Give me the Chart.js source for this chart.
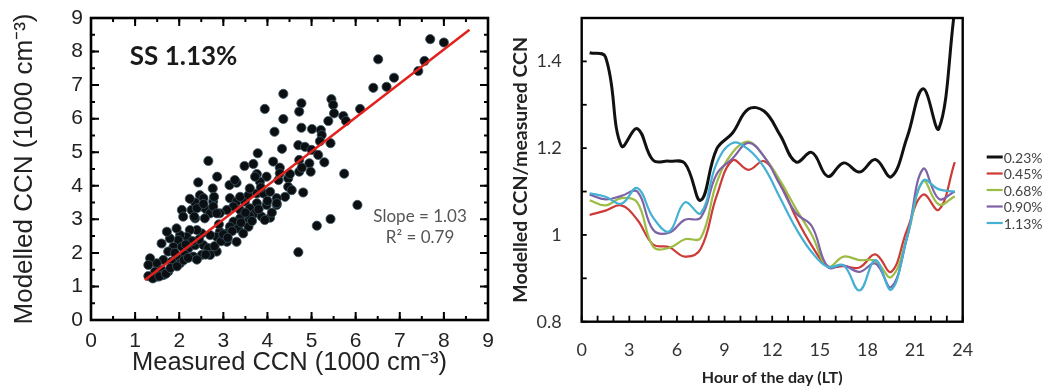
<!DOCTYPE html>
<html>
<head>
<meta charset="utf-8">
<script src="https://cdn.jsdelivr.net/npm/chart.js@4.4.0/dist/chart.umd.min.js"></script>
<style>
  html, body { margin: 0; padding: 0; background: #fff; }
  #wrap { position: relative; width: 1042px; height: 389px; overflow: hidden; }
  #scatterBox { position: absolute; left: 0; top: 0; width: 500px; height: 389px; }
  #diurnalBox { position: absolute; left: 500px; top: 0; width: 542px; height: 389px; }
</style>
</head>
<body>
<div id="wrap">
  <div id="scatterBox"><canvas id="scatterChart"></canvas></div>
  <div id="diurnalBox"><canvas id="diurnalChart"></canvas></div>
</div>
<script>
// ---- left panel: modelled vs measured CCN at SS 1.13% (1000 cm-3) ----
const measuredCCN = [
  7.69, 8.00, 6.51, 7.56, 7.42, 6.87, 6.40, 6.70, 6.10, 4.36, 5.45, 5.49, 4.77, 4.72, 5.51, 5.72,
  4.36, 5.38, 5.78, 4.16, 4.77, 5.01, 5.21, 5.23, 5.19, 5.43, 4.70, 4.85, 5.00, 4.33, 5.15, 4.95,
  5.29, 4.72, 4.13, 4.72, 4.98, 4.78, 4.28, 5.74, 4.47, 4.25, 4.47, 4.81, 4.55, 4.40, 4.21, 4.21,
  6.04, 5.43, 5.12, 4.70, 4.06, 3.94, 3.78, 3.48, 3.68, 2.66, 2.86, 3.76, 3.98, 3.83, 2.43, 3.30,
  3.14, 2.76, 2.47, 2.55, 2.77, 2.79, 2.06, 2.09, 2.28, 2.36, 2.51, 2.61, 2.70, 2.58, 2.36, 3.15,
  3.30, 3.49, 3.38, 3.57, 3.76, 3.91, 4.06, 4.21, 3.98, 3.76, 3.60, 3.38, 3.23, 3.08, 2.92, 3.72,
  3.87, 3.94, 3.57, 3.38, 3.23, 3.15, 3.34, 3.57, 3.45, 3.08, 2.92, 2.85, 2.70, 2.51, 2.40, 2.24,
  2.17, 2.02, 1.94, 1.98, 1.79, 1.72, 1.60, 1.87, 2.06, 2.21, 2.36, 2.55, 2.66, 2.85, 3.08, 3.30,
  2.70, 2.51, 2.32, 2.13, 1.94, 1.75, 1.64, 1.83, 2.02, 1.49, 1.34, 1.30, 1.45, 1.60, 1.75, 1.30,
  1.49, 1.64, 4.51, 4.28, 3.72, 3.60, 3.26, 2.24, 2.40, 2.55, 2.34, 2.77, 2.85, 1.40, 1.55, 1.70,
  1.80, 1.95, 2.10, 2.20, 2.40, 2.60, 2.80, 2.95, 3.00, 3.20, 3.40, 3.60, 3.50, 3.80, 2.45, 2.30,
  2.15, 1.90, 3.10, 3.65, 4.00, 3.85, 4.10, 2.90
];
const modelledCCN = [
  8.37, 8.27, 7.77, 7.72, 7.42, 7.22, 6.92, 6.95, 6.29, 6.74, 6.58, 6.41, 6.46, 6.21, 6.16, 6.08,
  5.99, 5.93, 5.93, 5.61, 5.73, 5.69, 5.66, 5.51, 5.33, 5.27, 5.21, 5.16, 5.07, 5.10, 4.92, 4.67,
  4.70, 4.77, 4.72, 4.42, 4.42, 4.54, 4.54, 4.36, 4.22, 4.17, 3.97, 3.80, 3.87, 3.67, 3.63, 3.43,
  3.43, 3.01, 2.81, 2.02, 3.05, 6.29, 4.97, 4.59, 4.65, 4.74, 4.27, 4.35, 4.27, 4.12, 4.10, 4.09,
  4.02, 3.92, 3.72, 3.63, 3.53, 3.67, 3.28, 3.08, 3.28, 3.50, 3.38, 3.30, 3.18, 3.03, 3.03, 3.63,
  3.53, 3.53, 3.67, 3.72, 3.77, 3.77, 3.82, 3.48, 3.43, 3.48, 3.33, 3.28, 3.38, 3.28, 3.18, 3.18,
  3.08, 2.98, 3.03, 3.03, 2.93, 2.78, 2.73, 2.78, 2.58, 2.58, 2.63, 2.48, 2.53, 2.58, 2.68, 2.68,
  2.48, 2.53, 2.73, 2.38, 2.43, 2.63, 2.28, 2.18, 2.18, 2.14, 2.23, 2.23, 2.14, 2.04, 2.33, 2.33,
  1.94, 1.94, 1.89, 1.94, 1.89, 2.04, 1.79, 1.74, 1.69, 1.69, 1.84, 1.64, 1.44, 1.49, 1.44, 1.31,
  1.29, 1.34, 4.35, 4.37, 4.27, 3.92, 4.17, 3.61, 3.33, 3.46, 3.08, 3.38, 3.18, 1.24, 1.30, 1.38,
  1.55, 1.60, 1.78, 1.85, 1.80, 1.95, 2.20, 2.35, 2.55, 2.65, 2.90, 3.10, 3.20, 3.30, 2.40, 2.35,
  2.25, 2.00, 2.45, 2.95, 3.55, 3.95, 3.20, 2.85
];
const fitX = [1.22, 8.58];
const fitY = [1.19, 8.65];
const scatterTicks = [0, 1, 2, 3, 4, 5, 6, 7, 8, 9];

// ---- right panel: diurnal modelled/measured CCN ratio ----
const hours = [0.5, 1.5, 2.5, 3.5, 4.5, 5.5, 6.5, 7.5, 8.5, 9.5, 10.5, 11.5,
  12.5, 13.5, 14.5, 15.5, 16.5, 17.5, 18.5, 19.5, 20.5, 21.5, 22.5, 23.5];
const ratio023 = [1.42, 1.41, 1.205, 1.245, 1.172, 1.17, 1.165, 1.08, 1.198, 1.235, 1.29, 1.285,
  1.23, 1.168, 1.19, 1.135, 1.166, 1.145, 1.174, 1.134, 1.225, 1.337, 1.245, 1.52];
const ratio045 = [1.046, 1.056, 1.068, 1.035, 0.978, 0.972, 0.95, 0.968, 1.09, 1.172, 1.15, 1.17,
  1.12, 1.04, 0.975, 0.928, 0.928, 0.925, 0.955, 0.915, 1.012, 1.093, 1.058, 1.168];
const ratio068 = [1.08, 1.068, 1.085, 1.075, 0.973, 0.97, 0.99, 0.993, 1.12, 1.19, 1.215, 1.18,
  1.125, 1.06, 1.0, 0.927, 0.95, 0.942, 0.94, 0.903, 0.995, 1.124, 1.07, 1.089];
const ratio090 = [1.093, 1.082, 1.09, 1.1, 1.012, 1.005, 1.035, 1.04, 1.14, 1.176, 1.212, 1.18,
  1.115, 1.05, 1.02, 0.926, 0.93, 0.915, 0.934, 0.88, 0.995, 1.152, 1.083, 1.1];
const ratio113 = [1.096, 1.088, 1.072, 1.108, 1.04, 1.008, 1.075, 1.05, 1.165, 1.212, 1.197, 1.155,
  1.085, 1.015, 0.96, 0.926, 0.93, 0.872, 0.942, 0.874, 0.995, 1.125, 1.105, 1.1];
const seriesLabels = ['0.23%', '0.45%', '0.68%', '0.90%', '1.13%'];
const hourTicks = [0, 3, 6, 9, 12, 15, 18, 21, 24];
const ratioTicks = [0.8, 1.0, 1.2, 1.4];
const ratioTickLabels = ['0.8', '1', '1.2', '1.4'];


// box around the plot + inward tick marks
const frameTicks = {
  id: 'frameTicks',
  afterDatasetsDraw(chart, args, opts) {
    const ctx = chart.ctx;
    const a = chart.chartArea;
    ctx.save();
    ctx.strokeStyle = '#000';
    ctx.lineWidth = opts.tickWidth;
    const marks = (scale, spec, sides) => {
      const n = Math.round((scale.max - scale.min) / spec.step);
      for (let i = 0; i <= n; i++) {
        const p = scale.getPixelForValue(scale.min + i * spec.step);
        ctx.beginPath();
        sides.forEach(s => {
          if (s === 'bottom') { ctx.moveTo(p, a.bottom); ctx.lineTo(p, a.bottom - spec.len); }
          if (s === 'top') { ctx.moveTo(p, a.top); ctx.lineTo(p, a.top + spec.len); }
          if (s === 'left') { ctx.moveTo(a.left, p); ctx.lineTo(a.left + spec.len, p); }
          if (s === 'right') { ctx.moveTo(a.right, p); ctx.lineTo(a.right - spec.len, p); }
        });
        ctx.stroke();
      }
    };
    opts.x.forEach(spec => marks(chart.scales.x, spec, opts.xSides));
    opts.y.forEach(spec => marks(chart.scales.y, spec, opts.ySides));
    ctx.lineWidth = opts.border;
    ctx.strokeRect(a.left, a.top, a.width, a.height);
    ctx.restore();
  }
};

// free text inside the scatter panel, placed in data units
const panelText = {
  id: 'panelText',
  afterDraw(chart, args, opts) {
    const ctx = chart.ctx;
    const {x, y} = chart.scales;
    ctx.save();
    ctx.textBaseline = 'middle';
    opts.items.forEach(t => {
      ctx.font = t.font;
      ctx.fillStyle = t.color;
      ctx.textAlign = t.align;
      ctx.fillText(t.text, x.getPixelForValue(t.x), y.getPixelForValue(t.y));
    });
    ctx.restore();
  }
};

// legend to the right of the diurnal plot
const sideLegend = {
  id: 'sideLegend',
  afterDraw(chart, args, opts) {
    const ctx = chart.ctx;
    const a = chart.chartArea;
    ctx.save();
    ctx.font = opts.font;
    ctx.textBaseline = 'middle';
    ctx.textAlign = 'left';
    chart.data.datasets.forEach((ds, i) => {
      const yy = opts.top + i * opts.step;
      const x0 = a.right + opts.gap;
      ctx.strokeStyle = ds.borderColor;
      ctx.lineWidth = ds.borderWidth;
      ctx.beginPath();
      ctx.moveTo(x0, yy);
      ctx.lineTo(x0 + opts.lineLen, yy);
      ctx.stroke();
      ctx.fillStyle = opts.color;
      ctx.fillText(ds.label, x0 + opts.lineLen + 1, yy + 1);
    });
    ctx.restore();
  }
};

// invisible tick marks keep the label gap without padding the chart area
const hiddenTicks = len => ({
  display: true, color: 'transparent', drawOnChartArea: false,
  drawTicks: true, tickLength: len, tickColor: 'transparent'
});

function drawScatter() {
  const ctx = document.getElementById('scatterChart').getContext('2d');
  const pts = measuredCCN.map((m, i) => ({x: m, y: modelledCCN[i]}));
  const fit = fitX.map((v, i) => ({x: v, y: fitY[i]}));
  const armFont = {family: "'Liberation Sans', Arial, sans-serif", size: 21};

  new Chart(ctx, {
    type: 'scatter',
    data: {
      datasets: [
        {
          type: 'line',
          label: 'fit',
          data: fit,
          borderColor: '#e3211c',
          borderWidth: 2.5,
          pointRadius: 0,
          order: 0
        },
        {
          label: 'SS 1.13%',
          data: pts,
          backgroundColor: '#0b0f12',
          borderColor: '#3b5662',
          borderWidth: 0.8,
          pointRadius: 4.6,
          order: 1
        }
      ]
    },
    options: {
      responsive: false,
      animation: false,
      layout: { padding: { top: 18, right: 12, left: 0, bottom: 0 } },
      scales: {
        x: {
          type: 'linear', min: 0, max: 9,
          afterBuildTicks: s => { s.ticks = scatterTicks.map(v => ({value: v})); },
          afterFit: s => { s.height = 69; },
          grid: hiddenTicks(9),
          border: { display: false },
          ticks: { color: '#222', font: armFont, padding: 0, maxRotation: 0 },
          title: {
            display: true, text: 'Measured CCN (1000 cm\u207B\u00B3)', color: '#222',
            font: {family: "'Liberation Sans', Arial, sans-serif", size: 25.5},
            padding: { top: 0, bottom: 11 }
          }
        },
        y: {
          type: 'linear', min: 0, max: 9,
          afterBuildTicks: s => { s.ticks = scatterTicks.map(v => ({value: v})); },
          afterFit: s => { s.width = 91; },
          grid: hiddenTicks(8),
          border: { display: false },
          ticks: { color: '#222', font: armFont, padding: 0 },
          title: {
            display: true, text: 'Modelled CCN (1000 cm\u207B\u00B3)', color: '#222',
            font: {family: "'Liberation Sans', Arial, sans-serif", size: 26},
            padding: { top: 9, bottom: 0 }
          }
        }
      },
      plugins: {
        legend: { display: false },
        tooltip: { enabled: false },
        frameTicks: {
          border: 2.6, tickWidth: 2,
          x: [{step: 1, len: 8}, {step: 0.5, len: 4}], xSides: ['bottom', 'top'],
          y: [{step: 1, len: 8}, {step: 0.5, len: 4}], ySides: ['left', 'right']
        },
        panelText: {
          items: [
            {text: 'SS 1.13%', x: 0.88, y: 7.84, align: 'left', color: '#1a1a1a',
             font: "bold 26px Lato, 'Open Sans', sans-serif"},
            {text: 'Slope = 1.03', x: 7.46, y: 3.07, align: 'center', color: '#555',
             font: "17px Lato, 'Open Sans', sans-serif"},
            {text: 'R\u00B2 = 0.79', x: 7.46, y: 2.45, align: 'center', color: '#555',
             font: "17px Lato, 'Open Sans', sans-serif"}
          ]
        }
      }
    },
    plugins: [frameTicks, panelText]
  });
}

function drawDiurnal() {
  const ctx = document.getElementById('diurnalChart').getContext('2d');
  const series = [ratio023, ratio045, ratio068, ratio090, ratio113];
  const colors = ['#111111', '#cc3b36', '#9cbc45', '#7e62a6', '#43b0d4'];
  const widths = [3, 2.2, 2.2, 2.2, 2.2];
  const calib = "Lato, 'Open Sans', sans-serif";

  new Chart(ctx, {
    type: 'line',
    data: {
      datasets: series.map((vals, i) => ({
        label: seriesLabels[i],
        data: vals.map((v, j) => ({x: hours[j], y: v})),
        borderColor: colors[i],
        backgroundColor: colors[i],
        borderWidth: widths[i],
        pointRadius: 0,
        tension: 0.4,
        fill: false,
        order: i === 0 ? 0 : 6 - i
      }))
    },
    options: {
      responsive: false,
      animation: false,
      layout: { padding: { top: 18, right: 79.3, left: 0, bottom: 0 } },
      scales: {
        x: {
          type: 'linear', min: 0, max: 24,
          afterBuildTicks: s => { s.ticks = hourTicks.map(v => ({value: v})); },
          afterFit: s => { s.height = 67.3; },
          grid: hiddenTicks(18),
          border: { display: false },
          ticks: { color: '#333', font: {family: calib, size: 18}, padding: 0, maxRotation: 0 },
          title: {
            display: true, text: 'Hour of the day (LT)', color: '#222',
            font: {family: calib, size: 16, weight: 'bold'},
            padding: { top: 0, bottom: 2 }
          }
        },
        y: {
          type: 'linear', min: 0.8, max: 1.5,
          afterBuildTicks: s => { s.ticks = ratioTicks.map(v => ({value: v})); },
          afterFit: s => { s.width = 81.7; },
          grid: hiddenTicks(20),
          border: { display: false },
          ticks: {
            color: '#333', font: {family: calib, size: 18}, padding: 0,
            callback: (v) => ratioTickLabels[ratioTicks.findIndex(t => Math.abs(t - v) < 1e-6)]
          },
          title: {
            display: true, text: 'Modelled CCN/measured CCN', color: '#222',
            font: {family: calib, size: 19.5, weight: 'bold'},
            padding: { top: 9, bottom: 0 }
          }
        }
      },
      plugins: {
        legend: { display: false },
        tooltip: { enabled: false },
        frameTicks: {
          border: 2.4, tickWidth: 1.8,
          x: [{step: 1, len: 6}], xSides: ['bottom'],
          y: [{step: 0.1, len: 5}], ySides: ['left']
        },
        sideLegend: {
          top: 157, step: 16.5, gap: 24, lineLen: 16, color: '#444',
          font: "14px Lato, 'Open Sans', sans-serif"
        }
      }
    },
    plugins: [frameTicks, sideLegend]
  });
}

const c1 = document.getElementById('scatterChart');
c1.width = 500; c1.height = 389;
const c2 = document.getElementById('diurnalChart');
c2.width = 542; c2.height = 389;
drawScatter();
drawDiurnal();
</script>
</body>
</html>
